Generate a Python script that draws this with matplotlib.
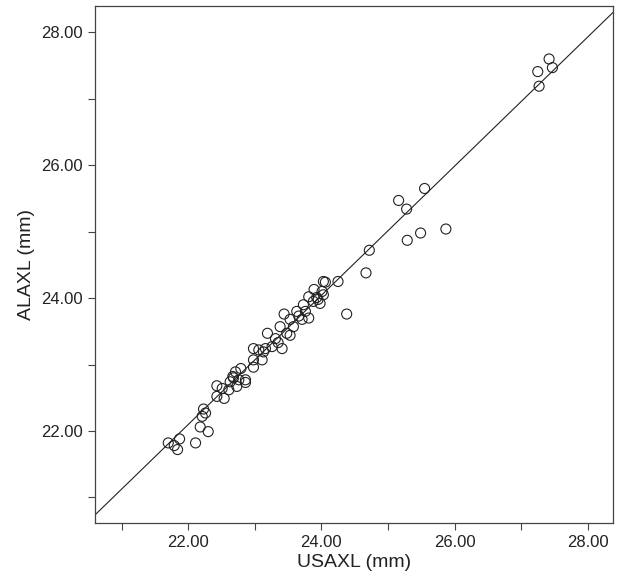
import matplotlib
matplotlib.use("Agg")
import matplotlib.pyplot as plt
from matplotlib.ticker import MultipleLocator, FormatStrFormatter

plt.rcParams["font.family"] = ["Liberation Sans", "DejaVu Sans"]

# values
usaxl = [27.42, 27.25, 27.47, 27.27,
         25.55, 25.16, 25.28, 25.87, 25.49, 25.29, 24.72, 24.67, 24.25, 24.06,
         23.89, 24.03, 24.01, 23.81, 23.93, 24.03, 23.88, 23.98, 24.38, 23.73,
         23.63, 23.76, 23.44, 23.81, 23.53, 23.71, 23.38, 23.58, 23.48, 23.53,
         23.19, 23.31, 23.41, 23.26, 23.16, 22.98, 23.06, 23.13, 22.98, 23.11,
         22.98, 22.79, 22.71, 22.67, 22.86, 22.76, 22.63, 22.73, 22.43, 22.51,
         22.61, 22.43, 22.54, 22.23, 22.26, 22.21, 22.18, 22.30, 21.87, 21.70,
         21.79, 21.84, 22.11, 22.86, 23.66, 23.95, 22.68, 23.35]
alaxl = [27.60, 27.41, 27.47, 27.19,
         25.65, 25.47, 25.34, 25.04, 24.98, 24.87, 24.72, 24.38, 24.25, 24.24,
         24.13, 24.25, 24.10, 24.02, 24.01, 24.05, 23.95, 23.92, 23.76, 23.90,
         23.80, 23.80, 23.76, 23.70, 23.68, 23.68, 23.57, 23.57, 23.47, 23.44,
         23.47, 23.39, 23.24, 23.27, 23.24, 23.24, 23.22, 23.19, 23.07, 23.07,
         22.96, 22.94, 22.89, 22.82, 22.77, 22.77, 22.74, 22.67, 22.68, 22.64,
         22.62, 22.52, 22.49, 22.33, 22.27, 22.22, 22.06, 21.99, 21.88, 21.82,
         21.78, 21.72, 21.82, 22.73, 23.73, 23.98, 22.80, 23.33]

# fit line endpoints
line_x = [20.60, 28.38]
line_y = [20.736, 28.30]

fig = plt.figure(figsize=(6.17, 5.83), dpi=100)
ax = fig.add_axes([0.154, 0.103, 0.8395, 0.887])

ax.plot(line_x, line_y, color="#222222", lw=0.8, zorder=1)
ax.scatter(usaxl, alaxl, s=52, facecolors="none", edgecolors="#222222", linewidths=0.8, zorder=2)

ax.set_xlim(20.60, 28.38)
ax.set_ylim(20.615, 28.40)
ax.xaxis.set_major_locator(MultipleLocator(2))
ax.xaxis.set_minor_locator(MultipleLocator(1))
ax.yaxis.set_major_locator(MultipleLocator(2))
ax.yaxis.set_minor_locator(MultipleLocator(1))
ax.xaxis.set_major_formatter(FormatStrFormatter("%.2f"))
ax.yaxis.set_major_formatter(FormatStrFormatter("%.2f"))
ax.tick_params(which="both", direction="out", length=5, width=0.8, color="#444444",
               labelsize=12, labelcolor="#222222")

for s in ax.spines.values():
    s.set_color("#444444")
    s.set_linewidth(0.9)

ax.set_xlabel("USAXL (mm)", fontsize=14, color="#222222", labelpad=3)
ax.set_ylabel("ALAXL (mm)", fontsize=14, color="#222222", labelpad=5)

fig.savefig("out.png", dpi=100)
